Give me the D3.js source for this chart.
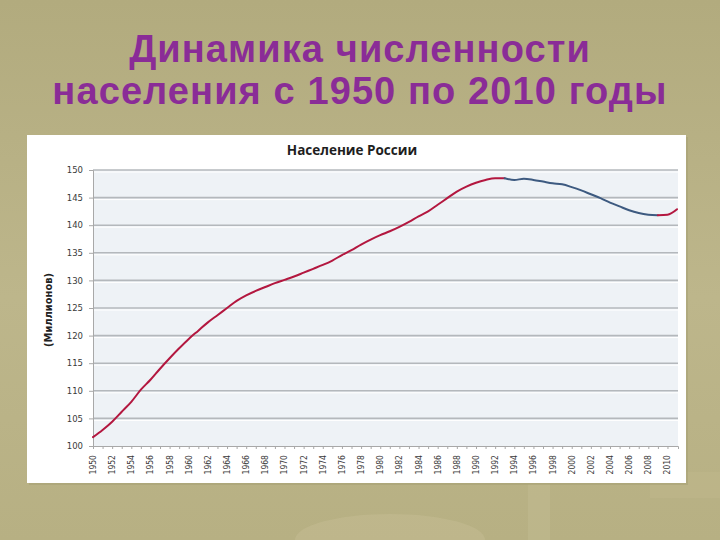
<!DOCTYPE html>
<html lang="ru">
<head>
    <meta charset="UTF-8">
    <title>Динамика численности населения</title>
    <script src="https://d3js.org/d3.v7.min.js"></script>
    <style>
        html, body { margin: 0; padding: 0; }
        body { width: 720px; height: 540px; overflow: hidden; }
    </style>
</head>
<body>
    <div id="chart"></div>

    <script>
(function(d3) {
    'use strict';

    // годовые значения, млн человек
    var years = d3.range(1950, 2012);
    var population = [
        101.6, 102.9, 104.4, 106.2, 108.0, 110.2, 112.0, 114.0, 115.9, 117.7,
        119.4, 120.9, 122.4, 123.7, 125.0, 126.3, 127.3, 128.1, 128.8, 129.5,
        130.1, 130.7, 131.4, 132.1, 132.8, 133.6, 134.6, 135.5, 136.5, 137.4,
        138.2, 138.9, 139.7, 140.6, 141.6, 142.5, 143.7, 144.9, 146.1, 147.0,
        147.7, 148.2, 148.5, 148.5, 148.2, 148.4, 148.2, 147.9, 147.6, 147.4,
        146.9, 146.3, 145.6, 144.9, 144.1, 143.4, 142.7, 142.2, 141.9, 141.8,
        141.9, 142.9
    ];
    // период убыли населения (синяя часть линии)
    var declineYears = [1993, 2009];

    var yTicks = d3.range(100, 151, 5);
    var xLabelYears = d3.range(1950, 2011, 2);

    var slideTitle = ['Динамика численности', 'населения с 1950 по 2010 годы'];
    var chartTitle = 'Население России';
    var yAxisTitle = '(Миллионов)';

    var width = 720, height = 540;
    var plot = { left: 93, right: 678, top: 170, bottom: 446 };

    var svg = d3.select('#chart')
      .append('svg')
      .attr('width', width)
      .attr('height', height);

    // фон слайда
    var defs = svg.append('defs');
    var bg = defs.append('linearGradient')
      .attr('id', 'bg')
      .attr('x1', 0).attr('y1', 0).attr('x2', 0).attr('y2', 1);
    bg.append('stop').attr('offset', '0%').attr('stop-color', '#b2ab7e');
    bg.append('stop').attr('offset', '55%').attr('stop-color', '#bdb68b');
    bg.append('stop').attr('offset', '100%').attr('stop-color', '#b7b083');

    svg.append('rect')
      .attr('width', width)
      .attr('height', height)
      .attr('fill', 'url(#bg)');

    // бледный рисунок весов внизу
    svg.append('ellipse')
      .attr('cx', 390).attr('cy', 540)
      .attr('rx', 95).attr('ry', 26)
      .attr('fill', '#cac49c').attr('opacity', 0.35);
    svg.append('rect')
      .attr('x', 528).attr('y', 484)
      .attr('width', 22).attr('height', 56)
      .attr('fill', '#cac49c').attr('opacity', 0.3);
    svg.append('rect')
      .attr('x', 650).attr('y', 472)
      .attr('width', 70).attr('height', 26)
      .attr('fill', '#c6c095').attr('opacity', 0.25);

    // заголовок слайда
    svg.append('g')
      .selectAll('text')
      .data(slideTitle)
      .enter()
      .append('text')
      .attr('x', 360)
      .attr('y', function(d, i) { return 62 + i * 42; })
      .attr('text-anchor', 'middle')
      .attr('font-family', 'Liberation Sans, Arial, sans-serif')
      .attr('font-weight', 'bold')
      .attr('font-size', 38)
      .attr('letter-spacing', 1.1)
      .attr('fill', '#8a2c97')
      .text(function(d) { return d; });

    // белая подложка диаграммы
    svg.append('rect')
      .attr('x', 29).attr('y', 137)
      .attr('width', 659).attr('height', 348)
      .attr('fill', '#a39d72').attr('opacity', 0.5);
    svg.append('rect')
      .attr('x', 27).attr('y', 135)
      .attr('width', 659).attr('height', 348)
      .attr('fill', '#ffffff');

    var x = d3.scaleLinear()
      .domain([1950, 2011.1])
      .range([plot.left, plot.right]);

    var y = d3.scaleLinear()
      .domain([100, 150])
      .range([plot.bottom, plot.top]);

    // область построения
    svg.append('rect')
      .attr('x', plot.left)
      .attr('y', plot.top)
      .attr('width', plot.right - plot.left)
      .attr('height', plot.bottom - plot.top)
      .attr('fill', '#eef2f6');

    // линии сетки
    var grid = svg.append('g');
    grid.selectAll('line.g')
      .data(yTicks.slice(1))
      .enter()
      .append('line')
      .attr('x1', plot.left)
      .attr('x2', plot.right)
      .attr('y1', function(d) { return y(d); })
      .attr('y2', function(d) { return y(d); })
      .attr('stroke', '#b4b8bc')
      .attr('stroke-width', 1.6);
    grid.selectAll('line.h')
      .data(yTicks.slice(1))
      .enter()
      .append('line')
      .attr('x1', plot.left)
      .attr('x2', plot.right)
      .attr('y1', function(d) { return y(d) + 2; })
      .attr('y2', function(d) { return y(d) + 2; })
      .attr('stroke', '#ffffff')
      .attr('stroke-width', 1);

    // ось Y
    var yAxis = svg.append('g')
      .attr('transform', 'translate(' + plot.left + ',0)')
      .call(d3.axisLeft(y).tickValues(yTicks).tickSize(4).tickPadding(6));
    yAxis.select('.domain').attr('stroke', '#a8a8a8');
    yAxis.selectAll('.tick line').attr('stroke', '#a8a8a8');
    yAxis.selectAll('text')
      .attr('font-family', 'DejaVu Sans, sans-serif')
      .attr('font-size', 8.5)
      .attr('fill', '#3a3a3a');

    // ось X
    var xAxis = svg.append('g')
      .attr('transform', 'translate(0,' + plot.bottom + ')')
      .call(d3.axisBottom(x).tickValues(years.slice(0, 61)).tickSize(3).tickFormat(''));
    xAxis.select('.domain').attr('stroke', '#a8a8a8');
    xAxis.selectAll('.tick line').attr('stroke', '#a8a8a8');

    svg.append('g')
      .selectAll('text')
      .data(xLabelYears)
      .enter()
      .append('text')
      .attr('transform', function(d) {
          return 'translate(' + (x(d) + 3) + ',' + (plot.bottom + 9) + ') rotate(-90)';
      })
      .attr('text-anchor', 'end')
      .attr('font-family', 'DejaVu Sans Condensed, DejaVu Sans, sans-serif')
      .attr('font-size', 8.5)
      .attr('fill', '#3a3a3a')
      .text(function(d) { return d; });

    // название диаграммы и оси
    svg.append('text')
      .attr('x', 352)
      .attr('y', 155)
      .attr('text-anchor', 'middle')
      .attr('font-family', 'Open Sans, sans-serif')
      .attr('font-weight', 'bold')
      .attr('font-size', 13.5)
      .attr('fill', '#1e1e1e')
      .text(chartTitle);

    svg.append('text')
      .attr('transform', 'translate(52,310) rotate(-90)')
      .attr('text-anchor', 'middle')
      .attr('font-family', 'DejaVu Sans Condensed, DejaVu Sans, sans-serif')
      .attr('font-weight', 'bold')
      .attr('font-size', 11)
      .attr('fill', '#222222')
      .text(yAxisTitle);

    // линия: рост - красный, убыль - синий
    var points = years.map(function(yr, i) { return { year: yr, value: population[i] }; });
    var line = d3.line()
      .x(function(d) { return x(d.year); })
      .y(function(d) { return y(d.value); })
      .curve(d3.curveMonotoneX);

    var parts = [
      { color: '#b3173f', data: points.filter(function(d) { return d.year <= declineYears[0]; }) },
      { color: '#3d5a80', data: points.filter(function(d) { return d.year >= declineYears[0] && d.year <= declineYears[1]; }) },
      { color: '#b3173f', data: points.filter(function(d) { return d.year >= declineYears[1]; }) }
    ];

    svg.append('g')
      .selectAll('path')
      .data(parts)
      .enter()
      .append('path')
      .attr('d', function(d) { return line(d.data); })
      .attr('fill', 'none')
      .attr('stroke', function(d) { return d.color; })
      .attr('stroke-width', 2)
      .attr('stroke-linecap', 'round');

})(window.d3);
    </script>
</body>
</html>
